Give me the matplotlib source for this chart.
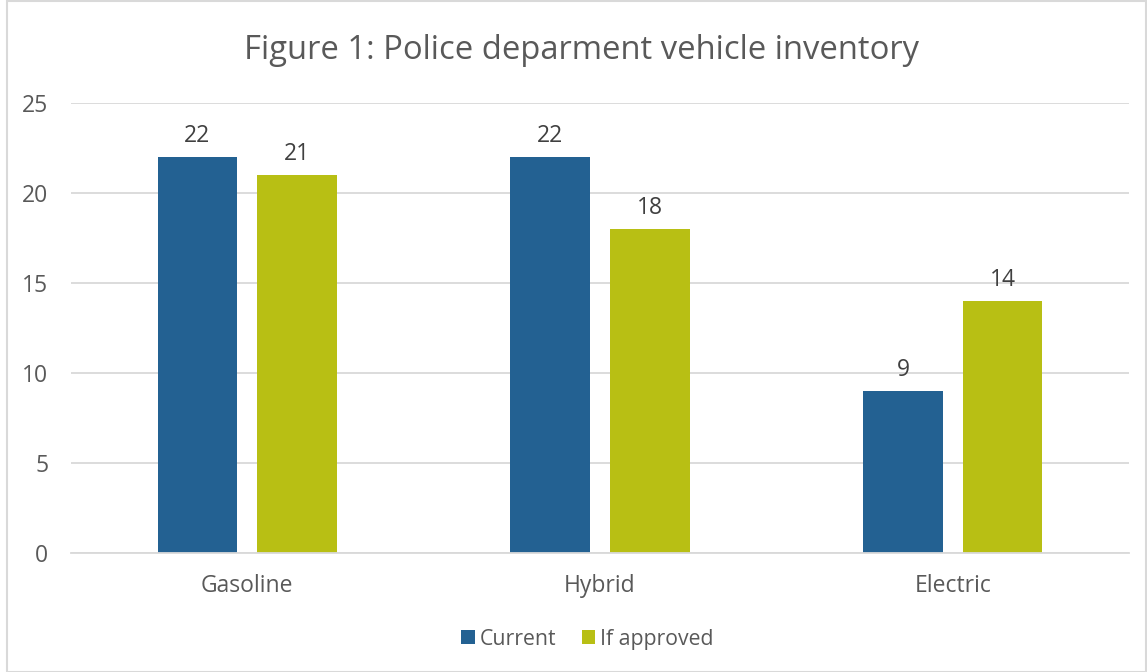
import matplotlib.pyplot as plt
import numpy as np

plt.rcParams['font.family'] = ['Open Sans', 'DejaVu Sans']

categories = ['Gasoline', 'Hybrid', 'Electric']
current = [22, 22, 9]
if_approved = [21, 18, 14]

fig = plt.figure(figsize=(11.47, 6.72), dpi=100)
ax = fig.add_axes([0.0615, 0.1771, 0.9232, 0.6696])

x = np.arange(len(categories))
w = 0.224
b1 = ax.bar(x - 0.1416, current, w, color='#236192', label='Current')
b2 = ax.bar(x + 0.1416, if_approved, w, color='#b8bf14', label='If approved')

for bars in (b1, b2):
    for r in bars:
        ax.text(r.get_x() + r.get_width() / 2, r.get_height() + 0.85, str(int(r.get_height())),
                ha='center', va='baseline', fontsize=16.5, color='#404040')

ax.set_xlim(-0.5, 2.5)
ax.set_ylim(0, 25)
ax.set_yticks(range(0, 26, 5))
ax.set_xticks(x)
ax.set_xticklabels(categories)
ax.tick_params(length=0, labelsize=16.5, labelcolor='#595959')
ax.tick_params(axis='y', pad=16)
ax.tick_params(axis='x', pad=15)
ax.grid(axis='y', color='#d9d9d9', linewidth=1.3)
ax.set_axisbelow(True)
for s in ['top', 'right', 'left']:
    ax.spines[s].set_visible(False)
ax.spines['bottom'].set_color('#d9d9d9')
ax.spines['bottom'].set_linewidth(1.3)

fig.text(0.507, 0.925, 'Figure 1: Police deparment vehicle inventory', ha='center', va='center',
         fontsize=23.6, color='#595959')

fig.legend(loc='center', bbox_to_anchor=(0.512, 0.049), ncol=2, frameon=False, fontsize=15.3,
           handlelength=0.65, handleheight=0.65, handletextpad=0.2, columnspacing=1.2,
           labelcolor='#595959')

fig.patches.append(plt.Rectangle((0.006, 0.0), 0.993, 0.999, transform=fig.transFigure,
                                 fill=False, edgecolor='#d9d9d9', linewidth=1.5))

fig.savefig('out.png', dpi=100)
